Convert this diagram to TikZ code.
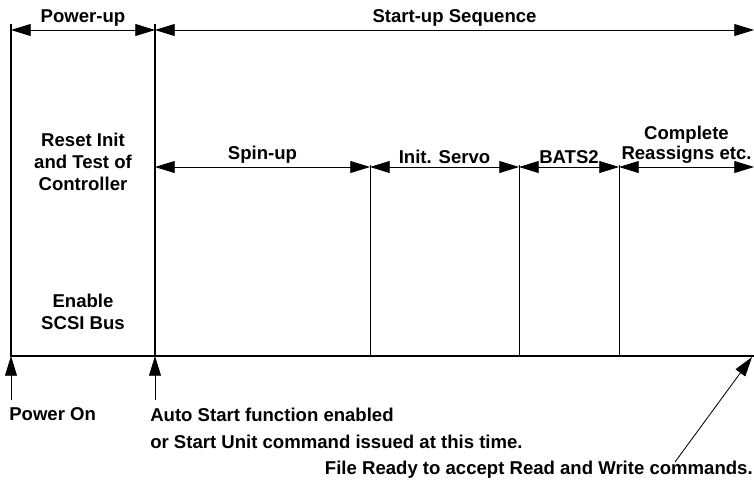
\documentclass[tikz,border=0pt]{standalone}
\usepackage{fontspec}
\setmainfont{Liberation Sans}
\usetikzlibrary{arrows.meta}
\tikzset{
    bigtip/.tip={Triangle[length=14pt,width=8.5pt]},
    span/.style={bigtip-bigtip,line width=0.6pt},
    mark line/.style={line width=0.6pt},
    frame/.style={line width=2pt},
    lbl/.style={font=\bfseries\fontsize{13.2}{15.5}\selectfont,align=center,inner sep=2pt},
}
\begin{document}
\begin{tikzpicture}[x=0.025cm,y=-0.025cm]
    \useasboundingbox (0,0) rectangle (754,483);
    % frame
    \coordinate (TopL) at (11,24);
    \coordinate (TopM) at (155,24);
    \coordinate (BotL) at (11,356);
    \coordinate (BotM) at (155,356);
    \coordinate (BotR) at (754,356);
    \draw[frame] (TopL) -- (BotL) -- (BotR);
    \draw[frame] (TopM) -- (BotM);
    % phase marks
    \foreach \x/\name in {370/A,519/B,619/C}{
        \draw[mark line] (\x,165) coordinate(Mark\name) -- (\x,356) coordinate(Foot\name);
    }
    % top spans
    \draw[span] (11,30) coordinate(p0) -- (155,30) coordinate(p1)
        node[midway,above,lbl] (powerup) {Power-up};
    \draw[span] (p1) -- (754,30) coordinate(p2)
        node[midway,above,lbl] (startup) {Start-up Sequence};
    % middle spans
    \draw[span] (155,167) coordinate(s0) -- (MarkA |- s0) coordinate(s1)
        node[midway,above,lbl] (spinup) {Spin-up};
    \draw[span] (s1) -- (MarkB |- s0) coordinate(s2)
        node[midway,above,lbl] (servo) {Init. Servo};
    \draw[span] (s2) -- (MarkC |- s0) coordinate(s3)
        node[midway,above,lbl] (bats) {BATS2};
    \draw[span] (s3) -- (754,167) coordinate(s4)
        node[midway,above,lbl,font=\bfseries\fontsize{13.2}{14.5}\selectfont] (reassign)
        {Complete\\Reassigns etc.};
    % power-up texts
    \node[lbl,anchor=base] (reset) at (83,190) {Reset Init\\and Test of\\Controller};
    \node[lbl,anchor=base] (enable) at (83,329) {Enable\\SCSI Bus};
    % bottom labels
    \node[lbl,anchor=base west,inner sep=0pt] (poweron) at (9,420) {Power On};
    \node[lbl,anchor=base west,inner sep=0pt,align=left,
          font=\bfseries\fontsize{13.2}{19}\selectfont] (autostart) at (150,448)
        {Auto Start function enabled\\or Start Unit command issued at this time.};
    \node[lbl,anchor=base east,inner sep=0pt] (ready) at (753,474)
        {File Ready to accept Read and Write commands.};
    \draw[mark line,-bigtip] (11,400) -- (BotL);
    \draw[mark line,-bigtip] (155,400) -- (BotM);
    \draw[mark line,-bigtip] (675,462) -- (752,357);
\end{tikzpicture}
\end{document}
